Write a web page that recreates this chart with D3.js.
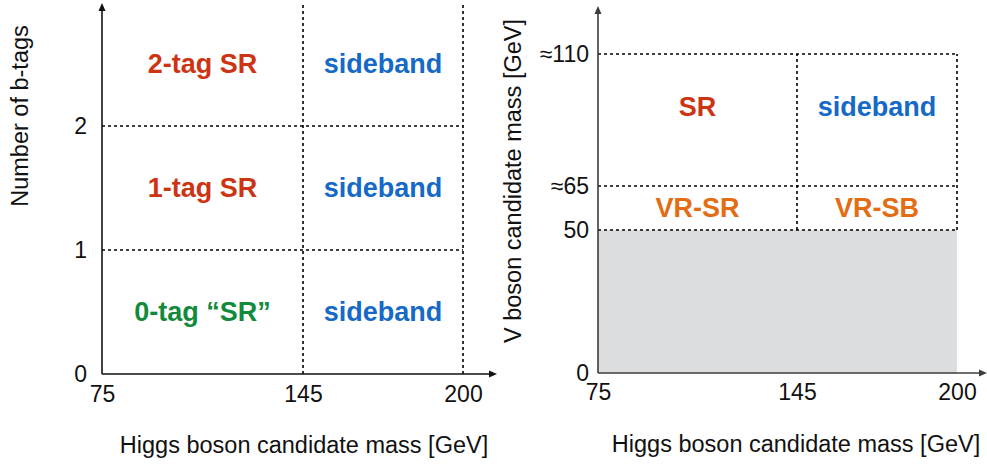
<!DOCTYPE html>
<html>
<head>
<meta charset="utf-8">
<script src="https://cdn.jsdelivr.net/npm/d3@7"></script>
<style>
  html, body { margin: 0; padding: 0; background: #fff; }
  svg { display: block; font-family: "Liberation Sans", Arial, sans-serif; }
</style>
</head>
<body>
<svg id="chart" width="987" height="464"></svg>
<script>
// ---------- data ----------
const xTicks = [75, 145, 200];
const xTickLabels = ["75", "145", "200"];
const leftYTicks = [0, 1, 2];
const leftYTickLabels = ["0", "1", "2"];
const rightYTicks = [0, 50, 65, 110];
const rightYTickLabels = ["0", "50", "≈65", "≈110"];

const leftCellLabels = ["2-tag SR", "sideband", "1-tag SR", "sideband", "0-tag “SR”", "sideband"];
const leftCellKinds  = ["sr", "sb", "sr", "sb", "sr0", "sb"];
const leftCellX = [[75, 145], [145, 200], [75, 145], [145, 200], [75, 145], [145, 200]];
const leftCellY = [[2, 3], [2, 3], [1, 2], [1, 2], [0, 1], [0, 1]];

const rightCellLabels = ["SR", "sideband", "VR-SR", "VR-SB"];
const rightCellKinds  = ["sr", "sb", "vr", "vr"];
const rightCellX = [[75, 145], [145, 200], [75, 145], [145, 200]];
const rightLabelY = [92, 92, 57.5, 57.5];

const leftHLines = [1, 2];          // b-tag boundaries
const leftVLines = [145, 200];      // mass boundaries
const rightHLines = [50, 65, 110];
const rightVLines = [145, 200];
const rightExcluded = [[75, 200], [0, 50]];

const leftXTitle = "Higgs boson candidate mass [GeV]";
const leftYTitle = "Number of b-tags";
const rightXTitle = "Higgs boson candidate mass [GeV]";
const rightYTitle = "V boson candidate mass [GeV]";

// ---------- styles ----------
const kindColor = { sr: "#cc3414", sb: "#1569c7", sr0: "#128a3c", vr: "#e46c12" };
const labelFont = 27, tickFont = 23, titleFont = 23.5;

const svg = d3.select("#chart");

// ---------- scales ----------
const lx = d3.scaleLinear().domain([75, 145, 200]).range([102, 303, 463]);
const ly = d3.scaleLinear().domain([0, 1, 2, 3]).range([374, 250, 126, 3]);
const rx = d3.scaleLinear().domain([75, 145, 200]).range([598, 797, 957]);
const ry = d3.scaleLinear().domain([0, 50, 65, 110]).range([373, 230, 186, 54]);

function dashed(g, x1, y1, x2, y2) {
  g.append("line").attr("x1", x1).attr("y1", y1).attr("x2", x2).attr("y2", y2)
    .attr("stroke", "#000").attr("stroke-width", 1.6).attr("stroke-dasharray", "3,3");
}

function arrowAxis(g, ox, oy, xEnd, yTop, color) {
  g.append("line").attr("x1", ox).attr("y1", oy).attr("x2", ox).attr("y2", yTop + 6)
    .attr("stroke", color).attr("stroke-width", 1.6);
  g.append("path").attr("d", `M${ox},${yTop} L${ox - 3.5},${yTop + 8} L${ox + 3.5},${yTop + 8} Z`).attr("fill", color);
  g.append("line").attr("x1", ox).attr("y1", oy).attr("x2", xEnd - 6).attr("y2", oy)
    .attr("stroke", color).attr("stroke-width", 1.6);
  g.append("path").attr("d", `M${xEnd},${oy} L${xEnd - 8},${oy - 3.5} L${xEnd - 8},${oy + 3.5} Z`).attr("fill", color);
}

function styleAxis(sel) {
  sel.select(".domain").remove();
  sel.selectAll("text").attr("font-size", tickFont).attr("fill", "#111")
    .attr("font-family", "Liberation Sans, Arial, sans-serif");
}

// ---------- left panel ----------
const L = svg.append("g");
leftVLines.forEach(v => dashed(L, lx(v), ly(0), lx(v), ly(3)));
leftHLines.forEach(v => dashed(L, lx(75), ly(v), lx(200), ly(v)));

arrowAxis(L, lx(75), ly(0), 497, 3, "#111");

L.append("g").attr("transform", `translate(0,${ly(0)})`)
  .call(d3.axisBottom(lx).tickValues(xTicks).tickFormat((d, i) => xTickLabels[i]).tickSize(0).tickPadding(12))
  .call(styleAxis);
L.append("g").attr("transform", `translate(${lx(75)},0)`)
  .call(d3.axisLeft(ly).tickValues(leftYTicks).tickFormat((d, i) => leftYTickLabels[i]).tickSize(0).tickPadding(15))
  .call(styleAxis);

L.selectAll("text.cell").data(leftCellLabels).join("text")
  .attr("class", "cell")
  .attr("x", (d, i) => lx((leftCellX[i][0] + leftCellX[i][1]) / 2))
  .attr("y", (d, i) => ly((leftCellY[i][0] + leftCellY[i][1]) / 2))
  .attr("dy", "0.33em")
  .attr("text-anchor", "middle")
  .attr("font-size", labelFont).attr("font-weight", "bold")
  .attr("fill", (d, i) => kindColor[leftCellKinds[i]])
  .text(d => d);

L.append("text").attr("x", 304).attr("y", 453).attr("text-anchor", "middle")
  .attr("font-size", titleFont).attr("fill", "#111").text(leftXTitle);
L.append("text").attr("transform", "translate(28,116) rotate(-90)").attr("text-anchor", "middle")
  .attr("font-size", titleFont).attr("fill", "#111").text(leftYTitle);

// ---------- right panel ----------
const R = svg.append("g");
R.append("rect")
  .attr("x", rx(rightExcluded[0][0])).attr("y", ry(rightExcluded[1][1]))
  .attr("width", rx(rightExcluded[0][1]) - rx(rightExcluded[0][0]))
  .attr("height", ry(rightExcluded[1][0]) - ry(rightExcluded[1][1]))
  .attr("fill", "#dcdddf");
rightHLines.forEach(v => dashed(R, rx(75), ry(v), rx(200), ry(v)));
rightVLines.forEach(v => dashed(R, rx(v), ry(50), rx(v), ry(110)));

arrowAxis(R, rx(75), ry(0), 987, 6, "#3c3c3c");

R.append("g").attr("transform", `translate(0,${ry(0)})`)
  .call(d3.axisBottom(rx).tickValues(xTicks).tickFormat((d, i) => xTickLabels[i]).tickSize(0).tickPadding(11))
  .call(styleAxis);
R.append("g").attr("transform", `translate(${rx(75)},0)`)
  .call(d3.axisLeft(ry).tickValues(rightYTicks).tickFormat((d, i) => rightYTickLabels[i]).tickSize(0).tickPadding(9))
  .call(styleAxis);

R.selectAll("text.cell").data(rightCellLabels).join("text")
  .attr("class", "cell")
  .attr("x", (d, i) => rx((rightCellX[i][0] + rightCellX[i][1]) / 2))
  .attr("y", (d, i) => ry(rightLabelY[i]))
  .attr("dy", "0.33em")
  .attr("text-anchor", "middle")
  .attr("font-size", labelFont).attr("font-weight", "bold")
  .attr("fill", (d, i) => kindColor[rightCellKinds[i]])
  .text(d => d);

R.append("text").attr("x", 796).attr("y", 452).attr("text-anchor", "middle")
  .attr("font-size", titleFont).attr("fill", "#111").text(rightXTitle);
R.append("text").attr("transform", "translate(521,181) rotate(-90)").attr("text-anchor", "middle")
  .attr("font-size", titleFont).attr("fill", "#111").text(rightYTitle);
</script>
</body>
</html>
